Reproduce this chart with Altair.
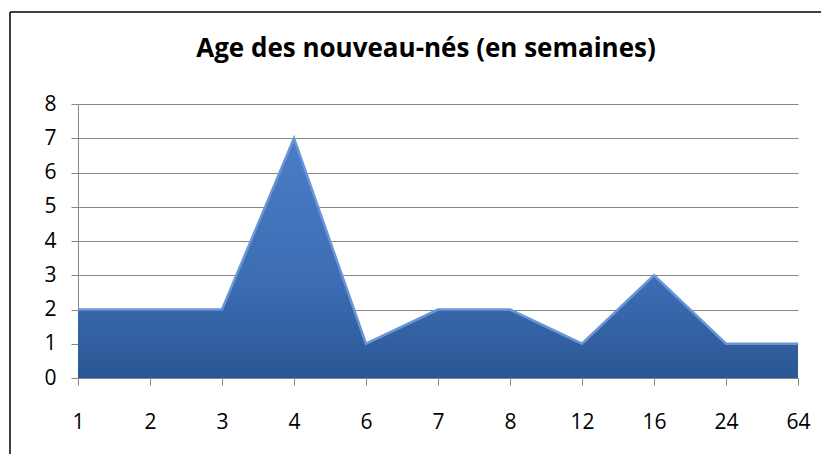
import altair as alt
import pandas as pd

ages = ["1", "2", "3", "4", "6", "7", "8", "12", "16", "24", "64"]
counts = [2, 2, 2, 7, 1, 2, 2, 1, 3, 1, 1]
y_ticks = [0, 1, 2, 3, 4, 5, 6, 7, 8]
title_text = "Age des nouveau-nés (en semaines)"

df = pd.DataFrame({"age": ages, "n": counts})

FONT = "Open Sans"

x_enc = alt.X(
    "age:N",
    sort=ages,
    scale=alt.Scale(type="point", padding=0),
    axis=alt.Axis(
        title=None, labelAngle=0, labelFontSize=21, labelFont=FONT, labelColor="#000000",
        labelPadding=26, tickColor="#868686", tickSize=7, domainColor="#868686",
        grid=False,
    ),
)
y_enc = alt.Y(
    "n:Q",
    scale=alt.Scale(domain=[0, 8], nice=False),
    axis=alt.Axis(
        title=None, values=y_ticks, labelFontSize=21, labelFont=FONT, labelColor="#000000",
        labelPadding=15, tickColor="#868686", tickSize=7, domainColor="#868686",
        gridColor="#868686", gridWidth=1,
    ),
)

area = alt.Chart(df).mark_area(
    opacity=1,
    line={"color": "#6a96d6", "strokeWidth": 2.5},
    color=alt.Gradient(
        gradient="linear",
        stops=[
            alt.GradientStop(color="#4a7dc6", offset=0),
            alt.GradientStop(color="#3c6db3", offset=0.6),
            alt.GradientStop(color="#2b5794", offset=1),
        ],
        x1=0, x2=0, y1=0, y2=1,
    ),
    interpolate="linear",
).encode(x=x_enc, y=y_enc)

title = alt.Chart(pd.DataFrame({"t": [title_text]})).mark_text(
    font=FONT, fontSize=26, fontWeight="bold", color="#000000",
    align="center", baseline="alphabetic", clip=False,
).encode(text="t:N", x=alt.value(348), y=alt.value(-47))

frame = alt.Chart(pd.DataFrame({"k": [0]})).mark_rule(
    color="#000000", strokeWidth=1.5, clip=False
).encode(x=alt.value(-68), y=alt.value(-92), y2=alt.value(400))

frame_top = alt.Chart(pd.DataFrame({"k": [0]})).mark_rule(
    color="#000000", strokeWidth=1.5, clip=False
).encode(x=alt.value(-68), x2=alt.value(760), y=alt.value(-92))

chart = alt.layer(area, title, frame, frame_top).properties(
    width=720,
    height=274,
    padding={"left": 70, "top": 96, "right": 23, "bottom": 76},
    autosize=alt.AutoSizeParams(type="none"),
).configure_view(stroke=None)

chart.save("out.html", embed_options={"renderer": "svg", "actions": False})
